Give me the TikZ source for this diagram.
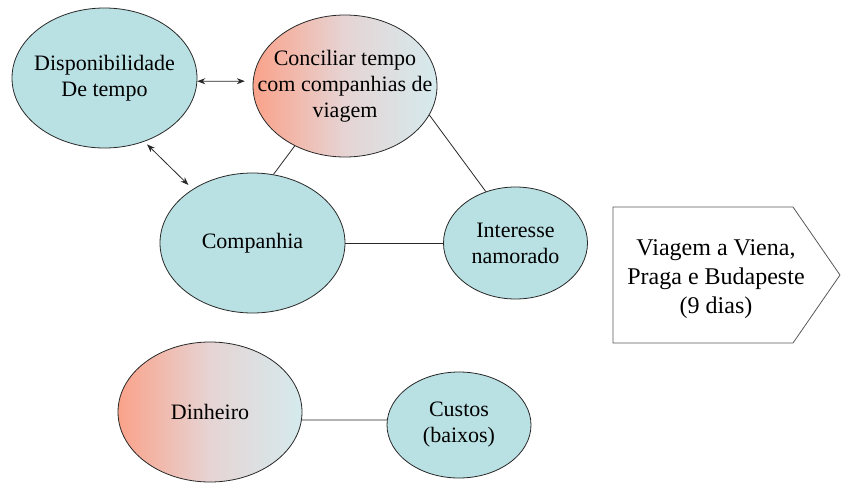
\documentclass[tikz,border=0pt]{standalone}
\usepackage{fontspec}
\setmainfont{Liberation Serif}
\usetikzlibrary{shapes.geometric,arrows.meta}
\definecolor{bluefill}{RGB}{185,224,227}
\definecolor{salmon}{RGB}{250,162,138}
\definecolor{paleblue}{RGB}{213,234,237}
\definecolor{midpink}{RGB}{230,212,212}
\definecolor{edgecol}{RGB}{40,40,40}
\begin{document}
\begin{tikzpicture}[x=1pt,y=-1pt,
  bub/.style={ellipse,draw=edgecol,line width=0.8pt,fill=bluefill,inner sep=0pt},
  grad/.style={ellipse,draw=edgecol,line width=0.8pt,left color=salmon,right color=paleblue,middle color=midpink,inner sep=0pt},
  txt/.style={align=center,font=\fontsize{22}{26}\selectfont,inner sep=0pt},
  bigtxt/.style={align=center,font=\fontsize{24}{29}\selectfont,inner sep=0pt},
  link/.style={draw=edgecol,line width=0.8pt},
  dbl/.style={link,{Stealth[length=8pt,width=6pt]}-{Stealth[length=8pt,width=6pt]}}]
\useasboundingbox (0,0) rectangle (841,485);

\node[bub,minimum width=185pt,minimum height=140pt] (disp) at (104.5,78) {};
\node[txt] (disptxt) at (disp) {Disponibilidade\\De tempo};

\node[grad,minimum width=184pt,minimum height=142pt] (conc) at (345,86) {};
\node[txt] (conctxt) at (conc) {Conciliar tempo\\com companhias de\\viagem};

\node[bub,minimum width=185pt,minimum height=140pt] (comp) at (252.5,243) {};
\node[txt] (comptxt) at (comp) {Companhia};

\node[bub,minimum width=144pt,minimum height=112pt] (inter) at (515.5,243) {};
\node[txt] (intertxt) at (inter) {Interesse\\namorado};

\node[grad,minimum width=184pt,minimum height=140pt] (din) at (210,412) {};
\node[txt] (dintxt) at (din) {Dinheiro};

\node[bub,minimum width=144pt,minimum height=106pt] (cus) at (459,425) {};
\node[txt] (custxt) at (cus) {Custos\\(baixos)};

\draw[draw=black!65,line width=0.8pt,fill=white] (613,207) -- (793,207) -- (840,275) -- (793,343) -- (613,343) -- cycle;
\node[bigtxt] (viag) at (716,279) {Viagem a Viena,\\Praga e Budapeste\\(9 dias)};

\draw[dbl,shorten >=8pt] (disp.-2) -- (conc.177);
\draw[dbl,shorten <=4pt,shorten >=6pt] (disp.302) -- (comp.138);
\draw[link] (conc.230) -- (comp.73);
\draw[link] (conc.341) -- (inter.120);
\draw[link] (comp.east) -- (inter.west);
\draw[link] (din.-5) -- (cus.176);
\end{tikzpicture}
\end{document}
